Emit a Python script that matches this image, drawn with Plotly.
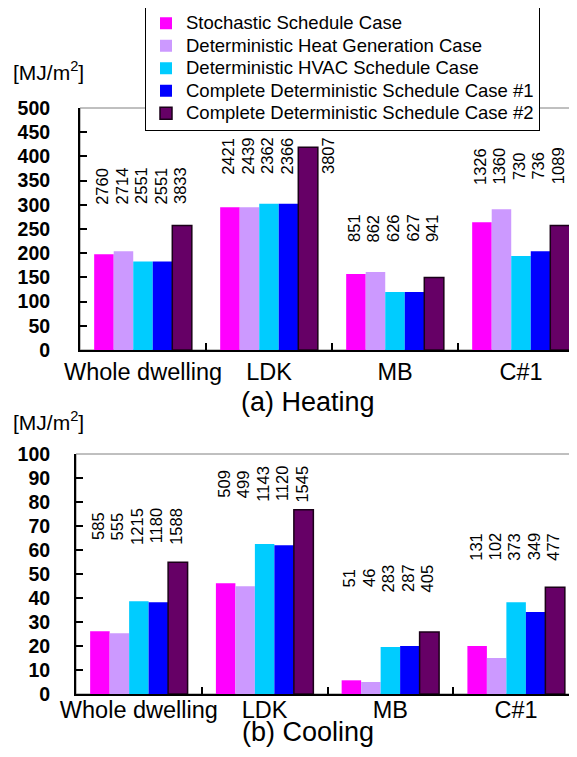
import plotly.graph_objects as go

# ---------------- data ----------------
categories = ["Whole dwelling", "LDK", "MB", "C#1"]
series_names = [
    "Stochastic Schedule Case",
    "Deterministic Heat Generation Case",
    "Deterministic HVAC Schedule Case",
    "Complete Deterministic Schedule Case #1",
    "Complete Deterministic Schedule Case #2",
]
# Heating [MJ/m2]
heat_stochastic = [198, 295, 157, 264]
heat_det_heatgen = [204, 295, 161, 291]
heat_det_hvac = [183, 302, 120, 194]
heat_complete1 = [183, 302, 120, 204]
heat_complete2 = [257, 419, 150, 257]
# Cooling [MJ/m2]
cool_stochastic = [26.1, 46.1, 5.7, 20.0]
cool_det_heatgen = [25.3, 44.9, 5.0, 15.0]
cool_det_hvac = [38.6, 62.5, 19.6, 38.2]
cool_complete1 = [38.2, 62.0, 20.0, 34.2]
cool_complete2 = [54.9, 76.8, 25.8, 44.5]
# numbers written above the bar groups
heat_labels = [[2760, 2714, 2551, 2551, 3833],
               [2421, 2439, 2362, 2366, 3807],
               [851, 862, 626, 627, 941],
               [1326, 1360, 730, 736, 1089]]
cool_labels = [[585, 555, 1215, 1180, 1588],
               [509, 499, 1143, 1120, 1545],
               [51, 46, 283, 287, 405],
               [131, 102, 373, 349, 477]]
heat_ticks = list(range(0, 501, 50))
cool_ticks = list(range(0, 101, 10))

# ---------------- styling / placement ----------------
colors = ["#FF00FF", "#CC99FF", "#00CCFF", "#0000FF", "#660066"]
line_colors = [None, None, None, None, "#1a0018"]
FONT = "Liberation Sans, Arial, sans-serif"
W, H = 577, 757
BARGAP = 0.225
heat_label_y = [339, 401, 252, 380]     # centre height of label column (data units)
cool_label_y = [70, 87.5, 48.3, 61.4]

heat_dom_x = [72 / W, 576 / W]
cool_dom_x = [68 / W, 571 / W]
heat_dom_y = [(H - 342) / H, (H - 100) / H]
cool_dom_y = [(H - 686) / H, (H - 446) / H]

heat_series = [heat_stochastic, heat_det_heatgen, heat_det_hvac, heat_complete1, heat_complete2]
cool_series = [cool_stochastic, cool_det_heatgen, cool_det_hvac, cool_complete1, cool_complete2]

fig = go.Figure()
for i, name in enumerate(series_names):
    mline = dict(width=1.5, color=line_colors[i]) if line_colors[i] else dict(width=0)
    legend_name = '<span style="font-size:18.5px">' + name + '</span>'
    fig.add_trace(go.Bar(x=categories, y=heat_series[i], name=legend_name,
                         marker=dict(color=colors[i], line=mline),
                         xaxis="x", yaxis="y", legendgroup=name, showlegend=True))
    fig.add_trace(go.Bar(x=categories, y=cool_series[i], name=legend_name,
                         marker=dict(color=colors[i], line=mline),
                         xaxis="x2", yaxis="y2", legendgroup=name, showlegend=False))

annotations = []
def add_labels(labels, label_y, xref, yref, dom):
    cat_w = (dom[1] - dom[0]) * W / len(categories)
    bar_w = cat_w * (1 - BARGAP) / len(series_names)
    for c, cat in enumerate(categories):
        for i, val in enumerate(labels[c]):
            xs = (i - 2) * bar_w - 2
            if xref == "x" and cat == "LDK" and i == 4:
                xs += 22
            annotations.append(dict(x=cat, y=label_y[c], xref=xref, yref=yref, xshift=xs, text=str(val),
                                    textangle=-90, showarrow=False, xanchor="center", yanchor="middle",
                                    font=dict(size=16.5, color="black", family=FONT)))

add_labels(heat_labels, heat_label_y, "x", "y", heat_dom_x)
add_labels(cool_labels, cool_label_y, "x2", "y2", cool_dom_x)

annotations += [
    dict(text="[MJ/m<sup>2</sup>]", x=3 / W, y=(H - 63) / H, xref="paper", yref="paper", xanchor="left",
         yanchor="middle", showarrow=False, font=dict(size=21, color="black", family=FONT)),
    dict(text="[MJ/m<sup>2</sup>]", x=3 / W, y=(H - 413) / H, xref="paper", yref="paper", xanchor="left",
         yanchor="middle", showarrow=False, font=dict(size=21, color="black", family=FONT)),
    dict(text="(a) Heating", x=300 / W, y=(H - 394) / H, xref="paper", yref="paper", xanchor="center",
         yanchor="middle", showarrow=False, font=dict(size=27, color="black", family=FONT)),
    dict(text="(b) Cooling", x=300 / W, y=(H - 724) / H, xref="paper", yref="paper", xanchor="center",
         yanchor="middle", showarrow=False, font=dict(size=27, color="black", family=FONT)),
]

shapes = [
    dict(type="rect", xref="x domain", yref="y domain", x0=0, x1=1, y0=0, y1=1,
         line=dict(color="#808080", width=1), layer="below"),
    dict(type="rect", xref="x2 domain", yref="y2 domain", x0=0, x1=1, y0=0, y1=1,
         line=dict(color="#808080", width=1), layer="below"),
]

xcommon = dict(showline=True, linecolor="black", linewidth=2, ticks="inside", tickson="boundaries",
               ticklen=7, tickcolor="black", tickwidth=1.5, showgrid=False, tickangle=0,
               tickfont=dict(size=23.5, color="black", family=FONT), categoryorder="array",
               categoryarray=categories, fixedrange=True)
ycommon = dict(showline=True, linecolor="black", linewidth=2, ticks="inside", ticklen=7, tickcolor="black",
               tickwidth=1.5, showgrid=False, zeroline=False, ticklabelposition="outside",
               tickfont=dict(size=19.5, color="black", family=FONT, weight="bold"), fixedrange=True)

fig.update_layout(
    width=W, height=H, margin=dict(l=0, r=0, t=0, b=0, autoexpand=False),
    paper_bgcolor="white", plot_bgcolor="white",
    barmode="group", bargap=BARGAP, bargroupgap=0,
    font=dict(family=FONT, color="black"),
    xaxis=dict(domain=heat_dom_x, anchor="y", ticklabelstandoff=0, **xcommon),
    yaxis=dict(domain=heat_dom_y, anchor="x", range=[0, 500], tickvals=heat_ticks,
               ticklabelstandoff=24, **ycommon),
    xaxis2=dict(domain=cool_dom_x, anchor="y2", ticklabelstandoff=-6, **xcommon),
    yaxis2=dict(domain=cool_dom_y, anchor="x2", range=[0, 100], tickvals=cool_ticks,
                ticklabelstandoff=20, **ycommon),
    legend=dict(x=137 / W, y=(H + 2) / H, xanchor="left", yanchor="top", bgcolor="white",
                bordercolor="black", borderwidth=1, font=dict(size=15, color="black", family=FONT),
                tracegroupgap=0, itemclick=False, itemdoubleclick=False),
    annotations=annotations, shapes=shapes, showlegend=True,
)

fig.write_html("out.html")
